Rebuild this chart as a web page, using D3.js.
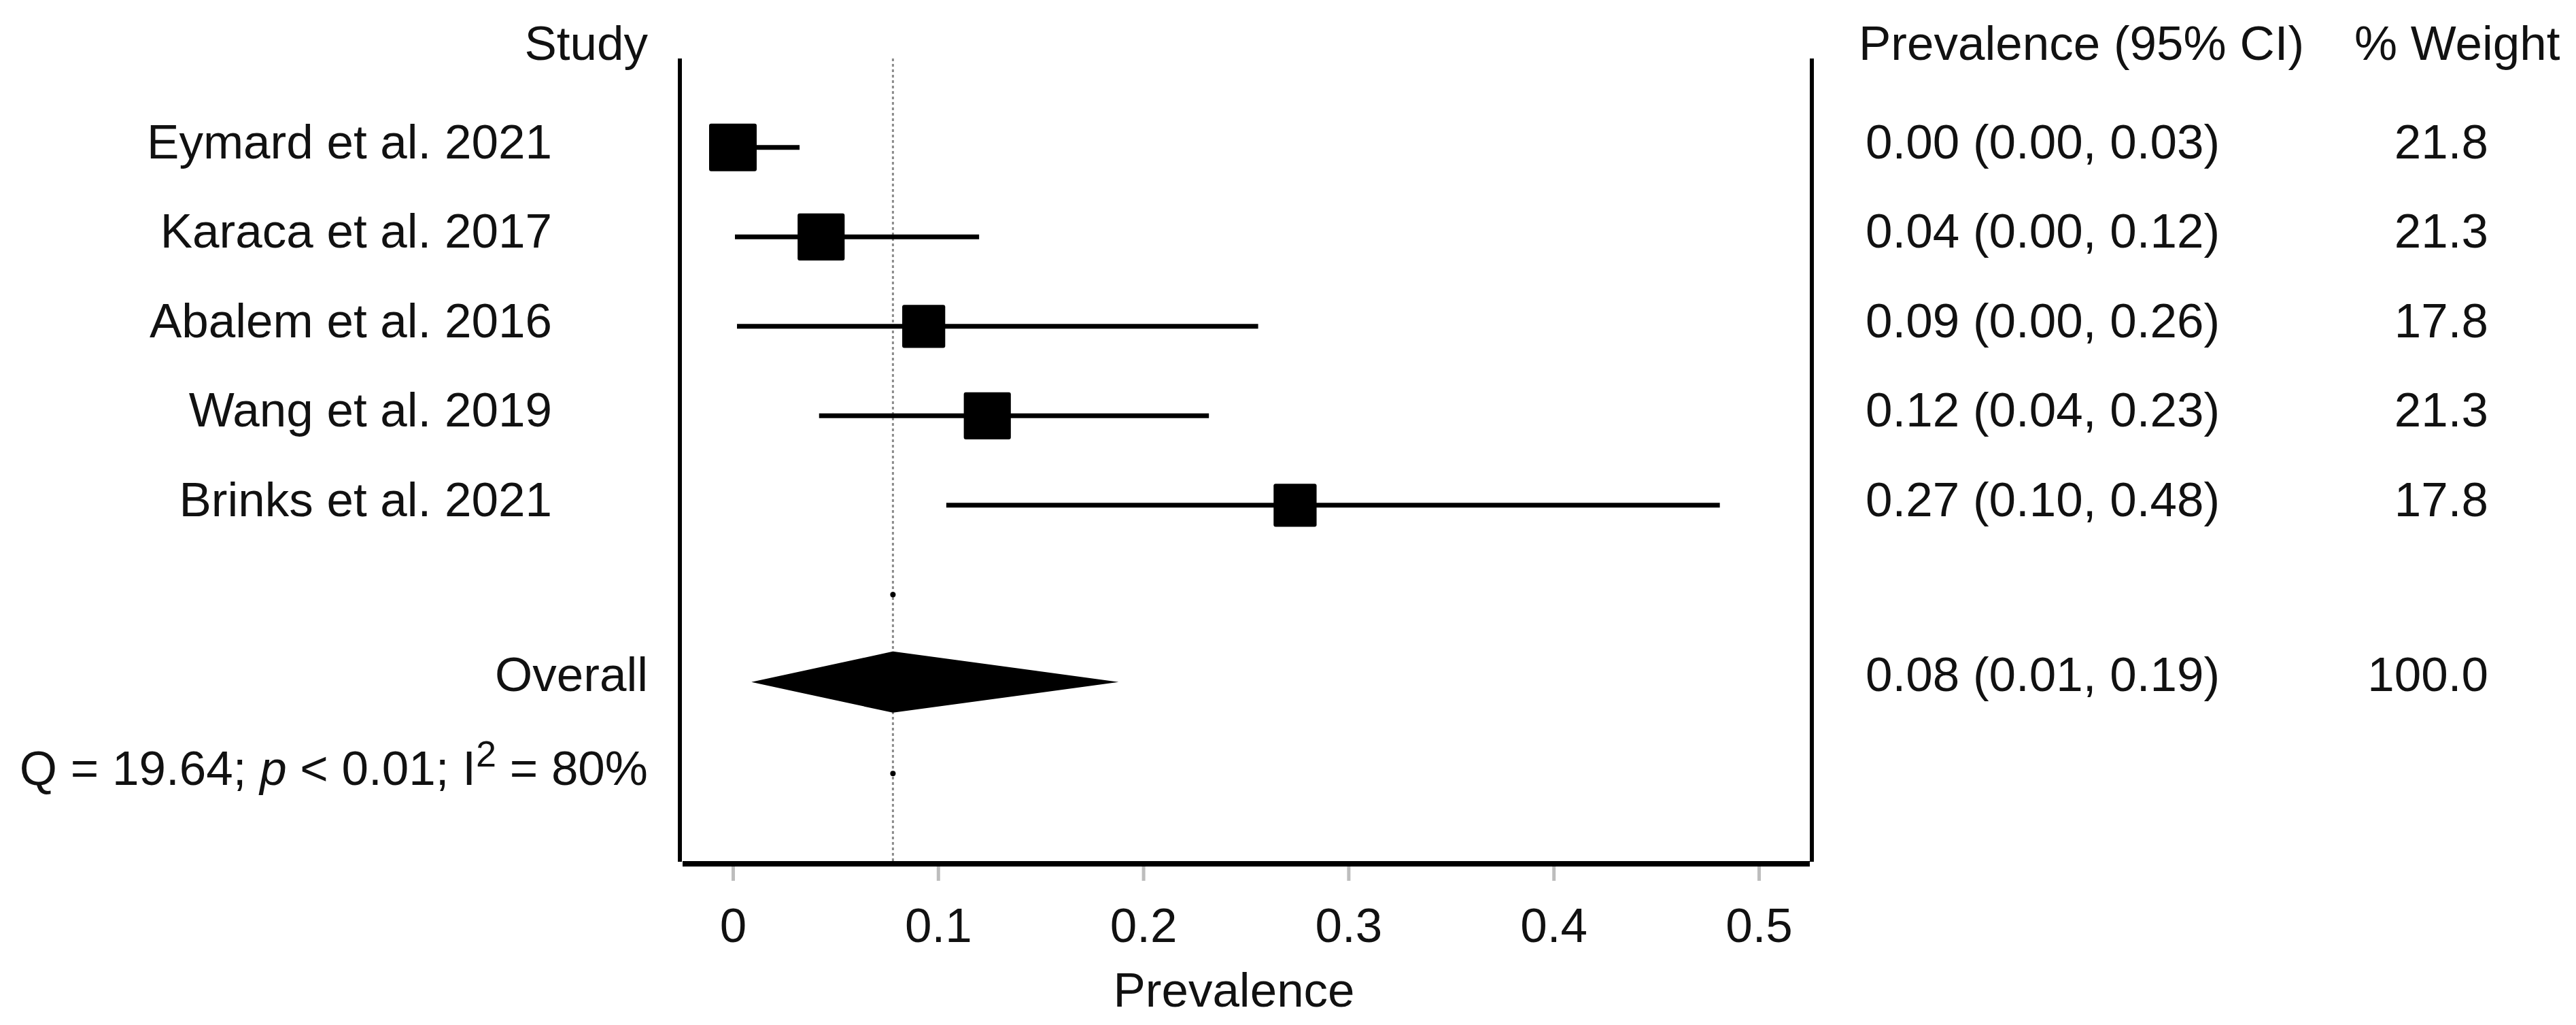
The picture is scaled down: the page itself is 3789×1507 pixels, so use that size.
<!DOCTYPE html>
<html>
<head>
<meta charset="utf-8">
<script src="https://cdn.jsdelivr.net/npm/d3@7/dist/d3.min.js"></script>
<style>
  html, body { margin: 0; padding: 0; background: #ffffff; }
  svg { display: block; }
  text { font-family: "Liberation Sans", Arial, Helvetica, sans-serif; fill: #111; }
</style>
</head>
<body>
<svg id="chart" width="3789" height="1507"></svg>
<script>
// ---------------- data ----------------
const studies   = ["Eymard et al. 2021", "Karaca et al. 2017", "Abalem et al. 2016", "Wang et al. 2019", "Brinks et al. 2021"];
const estimates = [0.000, 0.043, 0.093, 0.124, 0.274];
const lowerCI   = [0.000, 0.001, 0.002, 0.042, 0.104];
const upperCI   = [0.0325, 0.120, 0.256, 0.232, 0.481];
const weights   = [21.8, 21.3, 17.8, 21.3, 17.8];
const ciLabels  = ["0.00 (0.00, 0.03)", "0.04 (0.00, 0.12)", "0.09 (0.00, 0.26)", "0.12 (0.04, 0.23)", "0.27 (0.10, 0.48)"];
const weightLabels = ["21.8", "21.3", "17.8", "21.3", "17.8"];

const overallEst = 0.078, overallLo = 0.009, overallHi = 0.188;
const overallLabel = "0.08 (0.01, 0.19)";
const overallWeight = "100.0";

const xTicks = [0, 0.1, 0.2, 0.3, 0.4, 0.5];
const xTickLabels = ["0", "0.1", "0.2", "0.3", "0.4", "0.5"];

// ---------------- layout ----------------
const svg = d3.select("#chart");
const FS = 71;
const frameLeft = 1000, frameRight = 2665, frameTop = 86, frameBottom = 1267;
const axisY = 1270;

const x = d3.scaleLinear().domain([0, 0.5]).range([1078, 2587]);
const y = d3.scaleLinear().domain([0, 7]).range([216.8, 1137.3]);
const side = d3.scaleSqrt().domain([0, 21.8]).range([0, 70]);

const rowIdx = studies.map((d, i) => i);
const blankRow = 5, overallRow = 6, hetRow = 7;

// headers
svg.append("text").attr("x", 953).attr("y", 88).attr("text-anchor", "end")
  .style("font-size", FS + "px").text("Study");
svg.append("text").attr("x", 2734).attr("y", 88).attr("text-anchor", "start")
  .style("font-size", FS + "px").text("Prevalence (95% CI)");
svg.append("text").attr("x", 3463).attr("y", 88).attr("text-anchor", "start")
  .style("font-size", FS + "px").text("% Weight");

// reference (dotted) line at overall estimate
svg.append("line")
  .attr("x1", x(overallEst)).attr("x2", x(overallEst))
  .attr("y1", frameTop).attr("y2", frameBottom)
  .attr("stroke", "#8c8c8c").attr("stroke-width", 3)
  .attr("stroke-dasharray", "4,4");

// frame
svg.append("line").attr("x1", frameLeft).attr("x2", frameLeft)
  .attr("y1", frameTop).attr("y2", frameBottom)
  .attr("stroke", "#000").attr("stroke-width", 6);
svg.append("line").attr("x1", frameRight).attr("x2", frameRight)
  .attr("y1", frameTop).attr("y2", frameBottom)
  .attr("stroke", "#000").attr("stroke-width", 6);
svg.append("line").attr("x1", frameLeft + 4).attr("x2", frameRight - 3)
  .attr("y1", axisY).attr("y2", axisY)
  .attr("stroke", "#000").attr("stroke-width", 8);

// x axis ticks
const axis = d3.axisBottom(x).tickValues(xTicks)
  .tickFormat((d, i) => xTickLabels[i]).tickSize(21).tickSizeOuter(0);
const gAxis = svg.append("g").attr("transform", `translate(0,${axisY + 4})`).call(axis);
gAxis.select(".domain").remove();
gAxis.selectAll(".tick line").attr("stroke", "#bdbdbd").attr("stroke-width", 5);
gAxis.selectAll(".tick text")
  .attr("y", 111).attr("dy", 0)
  .style("font-size", FS + "px")
  .style("font-family", "'Liberation Sans', Arial, Helvetica, sans-serif")
  .attr("fill", "#111");

svg.append("text").attr("x", 1815).attr("y", 1480).attr("text-anchor", "middle")
  .style("font-size", FS + "px").text("Prevalence");

// study labels
svg.selectAll("text.study").data(rowIdx).enter().append("text")
  .attr("class", "study")
  .attr("x", 812).attr("y", i => y(i) + 16).attr("text-anchor", "end")
  .style("font-size", FS + "px").text(i => studies[i]);

// CI lines
svg.selectAll("line.ci").data(rowIdx).enter().append("line")
  .attr("class", "ci")
  .attr("x1", i => x(lowerCI[i])).attr("x2", i => x(upperCI[i]))
  .attr("y1", i => y(i)).attr("y2", i => y(i))
  .attr("stroke", "#000").attr("stroke-width", 7);

// squares
svg.selectAll("rect.box").data(rowIdx).enter().append("rect")
  .attr("class", "box")
  .attr("x", i => x(estimates[i]) - side(weights[i]) / 2)
  .attr("y", i => y(i) - side(weights[i]) / 2)
  .attr("width", i => side(weights[i]))
  .attr("height", i => side(weights[i]))
  .attr("rx", 3)
  .attr("fill", "#000");

// right columns
svg.selectAll("text.cilab").data(rowIdx).enter().append("text")
  .attr("class", "cilab")
  .attr("x", 2744).attr("y", i => y(i) + 16).attr("text-anchor", "start")
  .style("font-size", FS + "px").text(i => ciLabels[i]);
svg.selectAll("text.wlab").data(rowIdx).enter().append("text")
  .attr("class", "wlab")
  .attr("x", 3660).attr("y", i => y(i) + 16).attr("text-anchor", "end")
  .style("font-size", FS + "px").text(i => weightLabels[i]);

// small dots on blank rows
svg.selectAll("circle.dot").data([blankRow, hetRow]).enter().append("circle")
  .attr("class", "dot")
  .attr("cx", x(overallEst)).attr("cy", d => y(d)).attr("r", 4)
  .attr("fill", "#000");

// overall diamond
const yo = y(overallRow) - 3;
const dh = 45;
svg.append("path")
  .attr("d", d3.line()([
    [x(overallLo), yo], [x(overallEst), yo - dh], [x(overallHi), yo], [x(overallEst), yo + dh]
  ]) + "Z")
  .attr("fill", "#000");

svg.append("text").attr("x", 953).attr("y", y(overallRow) + 10).attr("text-anchor", "end")
  .style("font-size", FS + "px").text("Overall");
svg.append("text").attr("x", 2744).attr("y", y(overallRow) + 10).attr("text-anchor", "start")
  .style("font-size", FS + "px").text(overallLabel);
svg.append("text").attr("x", 3660).attr("y", y(overallRow) + 10).attr("text-anchor", "end")
  .style("font-size", FS + "px").text(overallWeight);

// heterogeneity line
const het = svg.append("text").attr("x", 953).attr("y", y(hetRow) + 17)
  .attr("text-anchor", "end").style("font-size", FS + "px");
het.append("tspan").text("Q = 19.64; ");
het.append("tspan").style("font-style", "italic").text("p");
het.append("tspan").text(" < 0.01; I");
het.append("tspan").attr("dy", -27).style("font-size", "54px").text("2");
het.append("tspan").attr("dy", 27).text(" = 80%");
</script>
</body>
</html>
